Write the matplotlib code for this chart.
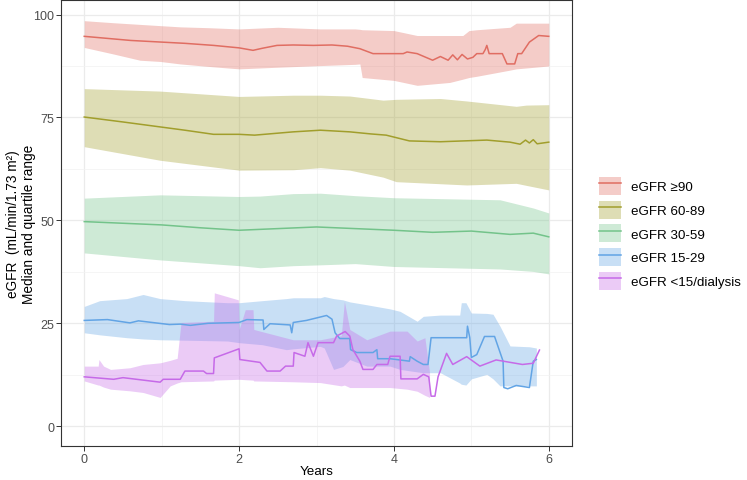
import numpy as np
import matplotlib
matplotlib.use("Agg")
from matplotlib import pyplot as plt
from matplotlib.patches import Patch
from matplotlib.lines import Line2D

plt.rcParams['font.family'] = ['Liberation Sans', 'DejaVu Sans']

labels = ["eGFR \u226590", "eGFR 60-89", "eGFR 30-59", "eGFR 15-29", "eGFR <15/dialysis"]
colors = ["#E06D62", "#A19E2C", "#73C38A", "#62A4E5", "#C66AE8"]

# medians (years, eGFR)
red_t = [0, 0.3, 0.6, 1.0, 1.3, 1.67, 2.0, 2.18, 2.3, 2.49, 2.7, 2.96, 3.2, 3.4, 3.56, 3.73, 4.12, 4.17,
         4.3, 4.5, 4.6, 4.7, 4.76, 4.82, 4.88, 4.95, 5.02, 5.07, 5.15, 5.18, 5.2, 5.23, 5.4, 5.46, 5.56,
         5.6, 5.65, 5.75, 5.87, 6.0]
red_med = [94.7, 94.2, 93.7, 93.3, 93.0, 92.5, 91.9, 91.3, 91.8, 92.5, 92.6, 92.5, 92.6, 92.3, 91.7, 90.5,
           90.5, 90.9, 90.5, 88.9, 89.8, 88.9, 90.2, 89.0, 90.3, 89.2, 89.6, 90.5, 90.5, 91.5, 92.5, 90.5,
           90.5, 88.0, 88.0, 90.5, 90.5, 93.3, 94.9, 94.7]

olive_t = [0, 0.5, 0.98, 1.3, 1.67, 2.0, 2.2, 2.7, 3.05, 3.43, 3.7, 3.9, 4.2, 4.6, 5.2, 5.5, 5.63, 5.7,
           5.75, 5.8, 5.85, 6.0]
olive_med = [75.1, 73.9, 72.7, 71.9, 70.9, 70.9, 70.7, 71.5, 71.9, 71.5, 71.0, 70.7, 69.3, 69.1, 69.5,
             69.0, 68.5, 69.5, 68.8, 69.6, 68.6, 69.0]

green_t = [0, 0.5, 1.0, 1.5, 2.0, 2.5, 3.0, 3.5, 4.0, 4.5, 5.0, 5.5, 5.8, 6.0]
green_med = [49.7, 49.3, 48.9, 48.2, 47.6, 48.0, 48.4, 48.0, 47.6, 47.1, 47.4, 46.6, 46.9, 46.0]

blue_t = [0, 0.3, 0.59, 0.7, 1.1, 1.24, 1.37, 1.6, 2.0, 2.1, 2.31, 2.32, 2.4, 2.66, 2.68, 2.7, 2.87,
          3.13, 3.2, 3.24, 3.3, 3.43, 3.44, 3.52, 3.73, 3.78, 3.79, 3.95, 4.2, 4.21, 4.3, 4.38, 4.44,
          4.46, 4.48, 4.94, 4.95, 4.98, 5.0, 5.07, 5.17, 5.3, 5.41, 5.42, 5.47, 5.58, 5.75, 5.8, 5.84]
blue_med = [25.7, 25.9, 25.1, 25.6, 24.7, 24.8, 24.5, 25.0, 25.2, 25.9, 25.8, 23.5, 24.9, 24.6, 22.7,
            25.2, 25.7, 26.9, 26.0, 22.7, 21.3, 21.3, 18.6, 17.9, 17.9, 18.6, 16.4, 16.4, 15.8, 16.9,
            15.8, 15.0, 15.0, 18.2, 21.5, 21.5, 24.3, 21.5, 16.7, 17.4, 21.8, 21.8, 15.8, 9.4, 9.1,
            9.9, 9.4, 15.8, 16.2]

purple_t = [0, 0.38, 0.5, 0.98, 1.02, 1.24, 1.3, 1.54, 1.58, 1.67, 1.68, 1.97, 2.0, 2.01, 2.27, 2.36,
            2.53, 2.6, 2.7, 2.71, 2.85, 2.89, 2.96, 3.02, 3.22, 3.26, 3.37, 3.43, 3.47, 3.56, 3.6, 3.73,
            3.78, 3.92, 3.95, 4.08, 4.09, 4.3, 4.38, 4.45, 4.48, 4.53, 4.57, 4.68, 4.76, 4.94, 5.11,
            5.32, 5.66, 5.8, 5.88]
purple_med = [12.0, 11.4, 11.8, 10.7, 11.4, 11.4, 13.4, 13.4, 12.8, 12.8, 16.6, 18.6, 18.8, 16.2, 15.5,
              13.4, 13.4, 14.6, 14.6, 17.9, 17.0, 20.3, 17.0, 20.3, 20.3, 21.9, 23.0, 21.9, 18.6, 15.8,
              13.8, 13.8, 15.0, 15.0, 17.0, 17.0, 11.5, 11.5, 12.6, 12.0, 7.3, 7.3, 12.0, 17.7, 15.0,
              16.9, 14.6, 16.1, 15.0, 15.3, 18.5]

# quartile ranges
red_band_t = [0, 0.38, 0.72, 0.98, 1.24, 1.6, 2.0, 2.5, 3.05, 3.5, 3.56, 3.59, 4.0, 4.3, 4.72, 4.89,
              4.97, 5.07, 5.5, 5.58, 6.0]
red_hi = [98.5, 98.0, 97.6, 97.3, 97.0, 96.8, 96.5, 96.9, 96.5, 96.5, 96.4, 96.3, 96.1, 94.9, 94.9,
          94.9, 96.1, 96.3, 96.9, 97.9, 97.9]
red_lo = [92.0, 90.4, 88.9, 88.6, 88.0, 87.4, 86.8, 87.2, 87.6, 87.9, 88.0, 84.7, 84.0, 82.8, 83.5,
          84.3, 84.7, 85.0, 86.5, 86.8, 87.5]

olive_band_t = [0, 0.98, 2.0, 2.7, 3.05, 3.43, 3.86, 4.03, 4.6, 4.94, 5.58, 5.71, 6.0]
olive_hi = [82.0, 81.4, 80.1, 80.4, 80.4, 80.2, 79.2, 79.4, 79.6, 79.0, 77.7, 78.0, 78.1]
olive_lo = [67.9, 64.6, 62.2, 62.3, 62.8, 62.2, 60.5, 59.4, 58.9, 58.6, 59.0, 58.5, 57.4]

green_band_t = [0, 0.98, 2.0, 2.27, 2.7, 3.05, 3.5, 4.0, 5.37, 5.8, 6.0]
green_hi = [55.4, 56.2, 55.8, 55.9, 56.5, 56.6, 56.0, 55.5, 55.0, 53.0, 51.8]
green_lo = [42.1, 40.4, 39.0, 38.5, 39.0, 39.2, 39.5, 38.8, 38.2, 37.6, 37.0]

blue_band_t = [0, 0.2, 0.55, 0.76, 0.98, 1.3, 1.85, 2.0, 2.3, 2.61, 2.7, 3.05, 3.1, 3.22, 3.34, 3.43,
               3.65, 3.95, 4.08, 4.3, 4.38, 4.6, 4.85, 4.87, 4.93, 5.0, 5.2, 5.28, 5.37, 5.5, 5.75, 5.84]
blue_hi = [29.1, 30.5, 31.0, 32.0, 31.0, 30.5, 30.0, 30.0, 30.5, 31.0, 31.2, 31.2, 31.5, 31.0, 30.7,
           30.2, 29.5, 28.5, 27.9, 25.5, 26.7, 27.0, 27.0, 30.0, 30.0, 27.5, 27.4, 27.2, 24.3, 19.5,
           19.3, 19.0]
blue_lo = [22.7, 22.2, 21.5, 21.2, 21.0, 20.9, 20.7, 20.3, 19.8, 18.6, 18.8, 19.4, 19.0, 13.8, 14.5,
           16.2, 14.6, 14.6, 13.8, 13.2, 13.0, 13.0, 10.5, 10.2, 10.0, 11.5, 12.6, 11.5, 9.8, 9.8,
           9.8, 9.8]

purple_band_t = [0, 0.18, 0.19, 0.25, 0.34, 0.59, 0.76, 0.98, 1.11, 1.2, 1.25, 1.67, 1.68, 1.99, 2.0,
                 2.08, 2.18, 2.19, 2.7, 3.05, 3.32, 3.36, 3.43, 3.65, 3.95, 4.17, 4.3, 4.4, 4.46]
purple_hi = [14.6, 14.6, 16.2, 14.6, 13.8, 14.2, 15.0, 15.4, 16.0, 16.5, 25.2, 25.5, 32.4, 30.7, 23.5,
             28.3, 28.3, 23.5, 21.0, 21.0, 22.0, 30.3, 23.5, 21.0, 23.1, 23.1, 20.7, 21.5, 13.0]
purple_lo = [11.0, 10.0, 10.0, 9.5, 9.0, 8.6, 8.2, 7.0, 9.8, 10.5, 10.8, 11.0, 11.2, 11.4, 11.4, 11.3,
             11.2, 11.0, 10.8, 10.6, 9.8, 10.0, 9.4, 9.4, 9.4, 9.0, 8.5, 7.5, 7.0]

medians = [(red_t, red_med), (olive_t, olive_med), (green_t, green_med),
           (blue_t, blue_med), (purple_t, purple_med)]
bands = [(red_band_t, red_lo, red_hi), (olive_band_t, olive_lo, olive_hi),
         (green_band_t, green_lo, green_hi), (blue_band_t, blue_lo, blue_hi),
         (purple_band_t, purple_lo, purple_hi)]

fig = plt.figure(figsize=(7.47, 4.81), dpi=100)
ax = fig.add_axes([0.0817, 0.0707, 0.684, 0.927])

fill_alpha = 0.35
for (t, lo, hi), c in zip(bands, colors):
    ax.fill_between(t, lo, hi, color=c, alpha=fill_alpha, linewidth=0)
for (t, m), c in zip(medians, colors):
    ax.plot(t, m, color=c, linewidth=1.1)

ax.set_xlim(-0.3, 6.3)
ax.set_ylim(-4.8, 103.5)
ax.set_xticks([0, 2, 4, 6])
ax.set_yticks([0, 25, 50, 75, 100])
ax.set_xticks([1, 3, 5], minor=True)
ax.set_yticks([12.5, 37.5, 62.5, 87.5], minor=True)
ax.grid(which='major', color='#EBEBEB', linewidth=0.9)
ax.grid(which='minor', color='#F2F2F2', linewidth=0.5)
ax.set_axisbelow(True)
ax.tick_params(which='major', length=3.5, width=0.7, color='#333333', labelcolor='#4D4D4D',
               labelsize=9, pad=1.5)
ax.tick_params(which='minor', length=0)
for s in ax.spines.values():
    s.set_color('#333333')
    s.set_linewidth(0.8)

ax.set_xlabel("Years", fontsize=9.6, color='black', labelpad=0)
ax.set_ylabel("eGFR  (mL/min/1.73 m\u00b2)\nMedian and quartile range", fontsize=9.8,
              color='black')
ax.yaxis.set_label_coords(-0.049, 0.5)

handles = [(Patch(facecolor=c, alpha=fill_alpha, linewidth=0), Line2D([], [], color=c, linewidth=1.1))
           for c in colors]
fig.legend(handles, labels, loc='center left', bbox_to_anchor=(0.795, 0.513), frameon=False,
           fontsize=9.6, handlelength=1.65, handleheight=1.7, labelspacing=0.43, handletextpad=0.7,
           borderaxespad=0)

fig.savefig("out.png", dpi=100)
